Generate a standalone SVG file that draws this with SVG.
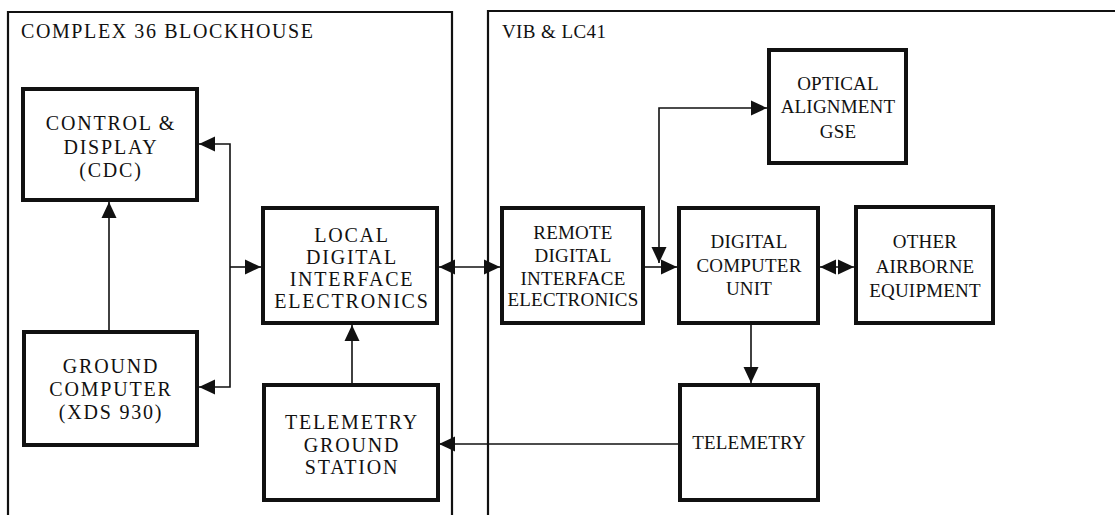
<svg xmlns="http://www.w3.org/2000/svg" width="1115" height="515" viewBox="0 0 1115 515">
<style>
  .bg{fill:#fff}
  .frame{fill:none;stroke:#111;stroke-width:2.2}
  .box{fill:#fff;stroke:#111;stroke-width:4}
  .t{font-family:"Liberation Serif","Times New Roman",serif;font-size:20px;letter-spacing:1.8px;fill:#111;text-anchor:middle}
  .r{font-family:"Liberation Serif","Times New Roman",serif;font-size:19px;letter-spacing:0.2px;fill:#111;text-anchor:middle}
  .h{font-family:"Liberation Serif","Times New Roman",serif;font-size:20px;letter-spacing:1.6px;fill:#111}
  .hr{font-family:"Liberation Serif","Times New Roman",serif;font-size:19px;letter-spacing:0.4px;fill:#111}
  .c{fill:none;stroke:#111;stroke-width:1.6}
</style>
<defs>
  <marker id="ah" viewBox="0 0 16 16" refX="16" refY="8" markerWidth="16" markerHeight="16" markerUnits="userSpaceOnUse" orient="auto-start-reverse">
    <path d="M0,0.5 L16,8 L0,15.5 z" fill="#111"/>
  </marker>
</defs>
<rect class="bg" x="0" y="0" width="1115" height="515"/>

<g id="zone-blockhouse">
  <path class="frame" d="M8,515 V12 H452 V515"/>
  <text class="h" x="21" y="38">COMPLEX 36 BLOCKHOUSE</text>
</g>
<g id="zone-vib">
  <path class="frame" d="M488,515 V11 H1115"/>
  <text class="hr" x="502" y="38">VIB &amp; LC41</text>
</g>

<g id="connectors">
  <path class="c" d="M109,332 V202" marker-end="url(#ah)"/>
  <path class="c" d="M199,144 H230 V387 H199" marker-start="url(#ah)" marker-end="url(#ah)"/>
  <path class="c" d="M230,267 H261" marker-end="url(#ah)"/>
  <path class="c" d="M352,383 V325" marker-end="url(#ah)"/>
  <path class="c" d="M439,267 H500" marker-start="url(#ah)" marker-end="url(#ah)"/>
  <path class="c" d="M678,444 H439" marker-end="url(#ah)"/>
  <path class="c" d="M645,267 H677" marker-end="url(#ah)"/>
  <path class="c" d="M659,263 V108 H767" marker-start="url(#ah)" marker-end="url(#ah)"/>
  <path class="c" d="M820,267 H854" marker-start="url(#ah)" marker-end="url(#ah)"/>
  <path class="c" d="M751,325 V383" marker-end="url(#ah)"/>
</g>

<g id="cdc">
  <rect class="box" x="23" y="89" width="174" height="111"/>
  <text class="t" x="111" y="130">CONTROL &amp;</text>
  <text class="t" x="111" y="154">DISPLAY</text>
  <text class="t" x="111" y="177">(CDC)</text>
</g>
<g id="ground-computer">
  <rect class="box" x="24" y="332" width="173" height="113"/>
  <text class="t" x="111" y="373">GROUND</text>
  <text class="t" x="111" y="396">COMPUTER</text>
  <text class="t" x="111" y="419">(XDS 930)</text>
</g>
<g id="local-die">
  <rect class="box" x="263" y="208" width="174" height="115"/>
  <text class="t" x="352" y="242">LOCAL</text>
  <text class="t" x="352" y="264">DIGITAL</text>
  <text class="t" x="352" y="286">INTERFACE</text>
  <text class="t" x="352" y="308">ELECTRONICS</text>
</g>
<g id="telemetry-ground-station">
  <rect class="box" x="264" y="385" width="174" height="115"/>
  <text class="t" x="352" y="429">TELEMETRY</text>
  <text class="t" x="352" y="452">GROUND</text>
  <text class="t" x="352" y="474">STATION</text>
</g>
<g id="remote-die">
  <rect class="box" x="502" y="208" width="141" height="115"/>
  <text class="r" x="573" y="239">REMOTE</text>
  <text class="r" x="573" y="262">DIGITAL</text>
  <text class="r" x="573" y="285">INTERFACE</text>
  <text class="r" x="573" y="306">ELECTRONICS</text>
</g>
<g id="dcu">
  <rect class="box" x="679" y="208" width="139" height="115"/>
  <text class="r" x="749" y="248">DIGITAL</text>
  <text class="r" x="749" y="272">COMPUTER</text>
  <text class="r" x="749" y="295">UNIT</text>
</g>
<g id="other-airborne">
  <rect class="box" x="856" y="207" width="137" height="116"/>
  <text class="r" x="925" y="248">OTHER</text>
  <text class="r" x="925" y="273">AIRBORNE</text>
  <text class="r" x="925" y="297">EQUIPMENT</text>
</g>
<g id="telemetry">
  <rect class="box" x="680" y="385" width="138" height="115"/>
  <text class="r" x="749" y="449">TELEMETRY</text>
</g>
<g id="optical-alignment">
  <rect class="box" x="769" y="50" width="137" height="113"/>
  <text class="r" x="838" y="90">OPTICAL</text>
  <text class="r" x="838" y="113">ALIGNMENT</text>
  <text class="r" x="838" y="138">GSE</text>
</g>
</svg>
